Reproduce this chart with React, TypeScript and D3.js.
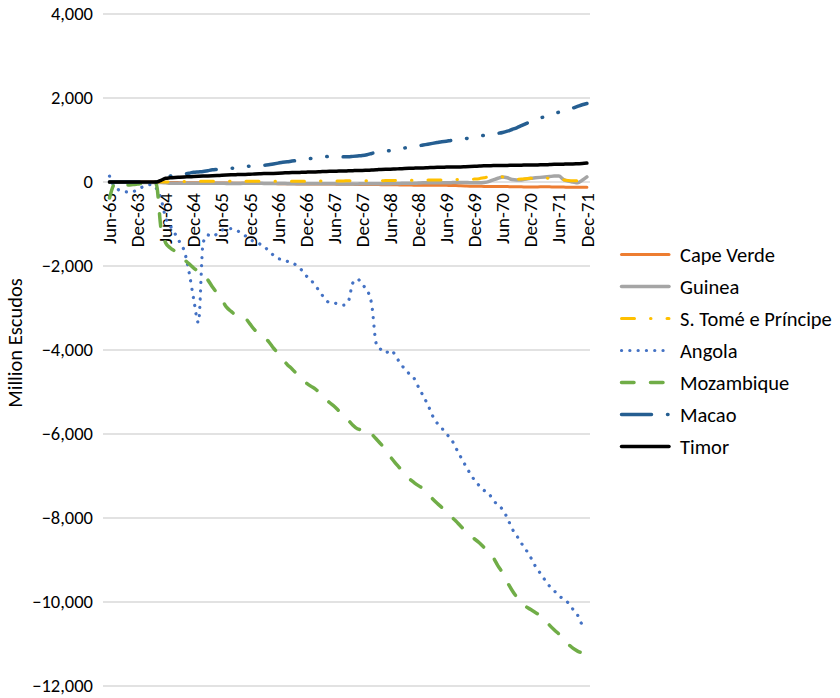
import React from "react";
import * as d3 from "d3";

// Monthly categories Jun-63 .. Dec-71 (103 months); labels every 6 months
const tickLabels = [
  "Jun-63", "Dec-63", "Jun-64", "Dec-64", "Jun-65", "Dec-65", "Jun-66", "Dec-66", "Jun-67",
  "Dec-67", "Jun-68", "Dec-68", "Jun-69", "Dec-69", "Jun-70", "Dec-70", "Jun-71", "Dec-71",
];
const yTicks = [4000, 2000, 0, -2000, -4000, -6000, -8000, -10000, -12000];

const capeVerde = [
  0, 0, 0, 0, 0, 0, 0, 0, 0, 0, 0, 0,
  -10, -10, -10, -15, -15, -15, -20, -20, -20, -20, -20, -25,
  -25, -25, -25, -30, -30, -30, -30, -30, -35, -35, -35, -35,
  -40, -40, -40, -40, -45, -45, -45, -45, -50, -50, -50, -50,
  -50, -55, -55, -55, -55, -60, -60, -60, -60, -60, -65, -65,
  -65, -65, -70, -70, -70, -75, -75, -75, -75, -80, -80, -80,
  -80, -85, -85, -90, -95, -100, -100, -100, -105, -105, -110, -110,
  -110, -110, -115, -115, -115, -120, -120, -120, -115, -115, -115, -120,
  -120, -120, -125, -125, -125, -125, -125,
];
const guinea = [
  0, 0, 0, 0, 0, -10, -10, -10, -10, -10, -10, -10,
  -20, -30, -30, -30, -30, -30, -30, -30, -30, -30, -30, -30,
  -30, -35, -35, -35, -35, -30, -30, -30, -30, -35, -35, -35,
  -35, -35, -40, -40, -40, -40, -40, -40, -40, -40, -40, -40,
  -40, -45, -45, -45, -45, -45, -40, -40, -40, -40, -40, -40,
  -40, -35, -35, -30, -30, -30, -25, -20, -20, -20, -20, -20,
  -20, -15, -10, -10, -10, -15, -15, -20, -10, 10, 50, 90,
  120, 100, 60, 50, 50, 70, 90, 100, 110, 120, 130, 140,
  140, 60, 20, 0, -20, 40, 120,
];
const saoTome = [
  0, 0, 0, 0, 0, 0, 0, 0, 0, 0, 0, 0,
  0, 5, 10, 10, 10, 10, 10, 15, 15, 15, 15, 15,
  15, 15, 20, 20, 20, 20, 20, 20, 20, 20, 20, 20,
  20, 20, 20, 20, 20, 20, 20, 25, 25, 25, 25, 25,
  25, 25, 25, 30, 30, 30, 30, 30, 30, 30, 30, 35,
  35, 35, 40, 40, 40, 40, 40, 45, 45, 45, 50, 50,
  55, 55, 60, 60, 60, 65, 70, 80, 100, 120, 125, 130,
  120, 90, 70, 65, 70, 80, 90, 90, 95, 95, 90, 90,
  80, 50, 35, 30, 30, 30, 35,
];
const angola = [
  140, -100, -190, -220, -240, -230, -180, -120, -80, -60, -150, -400,
  -850, -1050, -1230, -1430, -1650, -2150, -2800, -3350, -1450, -1260, -1300, -1230,
  -1150, -1110, -1110, -1150, -1200, -1280, -1360, -1430, -1470, -1530, -1640, -1740,
  -1820, -1850, -1890, -1920, -1990, -2090, -2230, -2330, -2470, -2620, -2780, -2870,
  -2880, -2910, -2930, -2850, -2400, -2310, -2450, -2570, -2900, -3850, -3990, -4070,
  -4000, -4110, -4300, -4440, -4560, -4660, -4880, -5090, -5300, -5560, -5740, -5860,
  -6000, -6120, -6330, -6540, -6740, -6930, -7100, -7230, -7340, -7410, -7580, -7690,
  -7800, -8000, -8250, -8420, -8600, -8760, -8940, -9150, -9310, -9470, -9620, -9730,
  -9850, -9930, -10020, -10170, -10310, -10520, -10430,
];
const mozambique = [
  -380, -60, -10, -40, -70, -60, -50, -30, -20, -20, -60, -1100,
  -1450, -1570, -1650, -1760, -1850, -1950, -2050, -2130, -2200, -2330, -2500, -2650,
  -2800, -2980, -3080, -3170, -3200, -3240, -3380, -3520, -3610, -3690, -3800, -3950,
  -4080, -4220, -4350, -4450, -4570, -4680, -4780, -4860, -4930, -5030, -5140, -5250,
  -5340, -5450, -5550, -5670, -5790, -5880, -5900, -5890, -6000, -6120, -6240, -6380,
  -6540, -6680, -6810, -6940, -7060, -7150, -7230, -7300, -7420, -7540, -7650, -7750,
  -7860, -7970, -8070, -8190, -8300, -8420, -8500, -8590, -8700, -8800, -8940, -9140,
  -9310, -9530, -9720, -9880, -10000, -10110, -10180, -10250, -10320, -10420, -10550, -10660,
  -10760, -10860, -11000, -11100, -11170, -11220, -11300,
];
const macao = [
  0, 0, 0, 0, 0, 0, 0, 0, 0, 0, 0, 0,
  80, 140, 170, 180, 190, 210, 230, 240, 250, 270, 290, 300,
  310, 320, 330, 330, 350, 370, 380, 400, 400, 400, 410, 430,
  450, 470, 480, 500, 510, 530, 550, 560, 570, 580, 600, 610,
  620, 620, 600, 600, 610, 620, 630, 650, 680, 710, 720, 730,
  750, 760, 790, 810, 820, 840, 860, 880, 900, 920, 940, 960,
  970, 990, 1000, 1010, 1030, 1050, 1070, 1090, 1110, 1130, 1150, 1160,
  1180, 1210, 1250, 1290, 1340, 1390, 1440, 1490, 1520, 1560, 1600, 1630,
  1660, 1690, 1720, 1760, 1800, 1840, 1870,
];
const timor = [
  0, 0, 0, 0, 0, 0, 0, 0, 0, 0, 0, 40,
  90, 100, 110, 115, 120, 125, 130, 135, 140, 145, 150, 155,
  160, 165, 170, 175, 180, 180, 185, 190, 195, 200, 200, 205,
  210, 215, 220, 225, 225, 230, 235, 240, 240, 245, 250, 255,
  255, 260, 260, 265, 270, 275, 275, 280, 285, 290, 300, 305,
  305, 310, 315, 320, 325, 330, 335, 335, 340, 345, 350, 350,
  355, 355, 360, 360, 365, 370, 375, 380, 385, 385, 390, 390,
  395, 395, 400, 400, 400, 405, 405, 405, 410, 410, 415, 420,
  420, 425, 430, 430, 435, 440, 450,
];

const seriesNames = ["Cape Verde", "Guinea", "S. Tomé e Príncipe", "Angola", "Mozambique", "Macao", "Timor"];
const seriesValues = [capeVerde, guinea, saoTome, angola, mozambique, macao, timor];
const seriesStyles = [
  { color: "#ED7D31", width: 3, dash: "none" },
  { color: "#A5A5A5", width: 3.5, dash: "none" },
  { color: "#FFC000", width: 3, dash: "13,16,0.5,16" },
  { color: "#4472C4", width: 3.2, dash: "0.1,8.2" },
  { color: "#70AD47", width: 3.5, dash: "12.5,16.5" },
  { color: "#255E91", width: 3.5, dash: "30,16,0.5,16,0.5,16" },
  { color: "#000000", width: 3.5, dash: "none" },
];

const FONT = "Calibri, Carlito, Lato, sans-serif";

export default function App() {
  const W = 840;
  const H = 698;
  const plotLeft = 103;
  const plotRight = 590;
  const n = capeVerde.length;
  const idx = d3.range(n);
  const x = d3.scalePoint<number>().domain(idx).range([109.5, 586.9]);
  const y = d3.scaleLinear().domain([-12000, 4000]).range([686, 14]);
  const fmt = d3.format(",");

  const lineGen = d3
    .line<number>()
    .x((_, i) => x(i) as number)
    .y((v) => y(v))
    .curve(d3.curveMonotoneX);

  const legendX0 = 621.5;
  const legendX1 = 669;
  const legendY0 = 254.5;
  const legendStep = 32;

  return (
    <svg width={W} height={H} style={{ position: "absolute", left: 0, top: 0, background: "#fff" }} fontFamily={FONT}>
      <rect x={0} y={0} width={W} height={H} fill="#fff" />
      {yTicks.map((t) => (
        <g key={t}>
          <line x1={plotLeft} x2={plotRight} y1={y(t)} y2={y(t)} stroke="#D9D9D9" strokeWidth={1.3} />
          <text x={93} y={y(t)} dy="0.35em" textAnchor="end" fontSize={18.5} fill="#000">
            {fmt(t)}
          </text>
        </g>
      ))}
      {tickLabels.map((lab, k) => {
        const xi = x(k * 6) as number;
        return (
          <text
            key={lab}
            transform={`translate(${xi},193) rotate(-90)`}
            dy="0.35em"
            textAnchor="end"
            fontSize={19}
            fill="#000"
          >
            {lab}
          </text>
        );
      })}
      <text transform="translate(22,343) rotate(-90)" textAnchor="middle" fontSize={20.5} fill="#000">
        Million Escudos
      </text>
      {seriesValues.map((vals, s) => (
        <path
          key={seriesNames[s]}
          d={lineGen(vals) || ""}
          fill="none"
          stroke={seriesStyles[s].color}
          strokeWidth={seriesStyles[s].width}
          strokeDasharray={seriesStyles[s].dash}
          strokeLinecap="round"
          strokeLinejoin="round"
        />
      ))}
      {seriesNames.map((name, s) => {
        const ly = legendY0 + s * legendStep;
        return (
          <g key={name}>
            <line
              x1={legendX0}
              x2={legendX1}
              y1={ly}
              y2={ly}
              stroke={seriesStyles[s].color}
              strokeWidth={seriesStyles[s].width}
              strokeDasharray={seriesStyles[s].dash}
              strokeLinecap="round"
            />
            <text x={680} y={ly} dy="0.35em" fontSize={20.5} fill="#000">
              {name}
            </text>
          </g>
        );
      })}
    </svg>
  );
}
